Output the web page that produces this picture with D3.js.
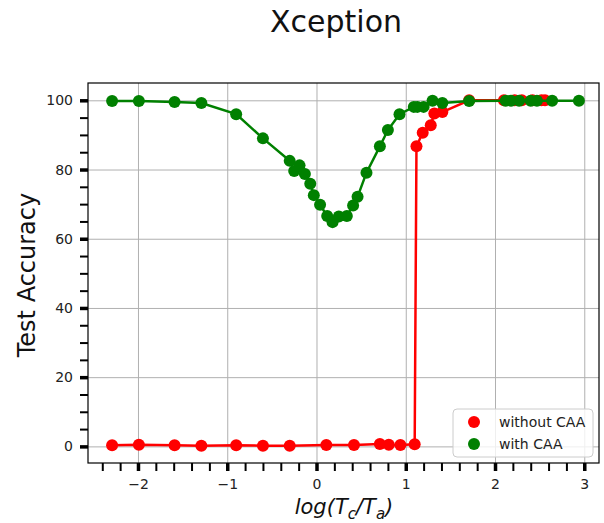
<!DOCTYPE html>
<html>
<head>
<meta charset="utf-8">
<script src="https://cdn.jsdelivr.net/npm/d3@7"></script>
<style>
  body { margin: 0; background: #fff; }
  svg { font-family: "DejaVu Sans", sans-serif; }
</style>
</head>
<body>
<svg id="chart" width="604" height="523"></svg>
<script>
// Data
const title = "Xception";
const seriesNames = ["without CAA", "with CAA"];

const withoutX = [-2.29, -1.99, -1.59, -1.29, -0.90, -0.60, -0.30, 0.11, 0.42, 0.71, 0.81, 0.94, 1.10,
                  1.12, 1.19, 1.28, 1.32, 1.41, 1.71, 2.10, 2.22, 2.30, 2.42, 2.52, 2.56];
const withoutY = [0.3, 0.5, 0.3, 0.2, 0.3, 0.2, 0.2, 0.4, 0.4, 0.7, 0.5, 0.4, 0.6,
                  86.7, 90.6, 92.8, 96.2, 96.6, 100.0, 100.0, 100.0, 100.0, 100.0, 100.0, 100.0];

const withX = [-2.29, -1.99, -1.59, -1.29, -0.90, -0.60, -0.30, -0.25, -0.19, -0.13, -0.07, -0.03,
               0.04, 0.12, 0.18, 0.25, 0.34, 0.41, 0.46, 0.56, 0.71, 0.80, 0.93, 1.09, 1.13, 1.20,
               1.30, 1.41, 1.71, 2.12, 2.18, 2.27, 2.40, 2.47, 2.64, 2.94];
const withY = [99.8, 99.8, 99.5, 99.2, 96.0, 89.0, 82.5, 79.6, 81.2, 78.7, 75.9, 72.6,
               69.8, 66.6, 64.8, 66.4, 66.6, 69.6, 72.1, 79.1, 86.7, 91.4, 96.0, 98.1, 98.1, 98.1,
               99.9, 99.2, 99.8, 99.9, 99.9, 99.9, 99.9, 99.9, 99.9, 99.9];

const xTicks = [-2, -1, 0, 1, 2, 3];
const yTicks = [0, 20, 40, 60, 80, 100];

// Layout
const box = { left: 88, right: 599, top: 83, bottom: 463 };
const svg = d3.select("#chart");

const x = d3.scaleLinear().domain([-2.56, 3.165]).range([box.left, box.right]);
const y = d3.scaleLinear().domain([-4.8, 105]).range([box.bottom, box.top]);

const fmt = d => d < 0 ? "\u2212" + Math.abs(d) : String(d);

// Grid
svg.append("g")
    .attr("transform", "translate(0," + box.bottom + ")")
    .call(d3.axisBottom(x).tickValues(xTicks).tickSize(-(box.bottom - box.top)).tickFormat(""))
    .call(g => g.select(".domain").remove())
    .call(g => g.selectAll("line").attr("stroke", "#b0b0b0").attr("stroke-width", 1));

svg.append("g")
    .attr("transform", "translate(" + box.left + ",0)")
    .call(d3.axisLeft(y).tickValues(yTicks).tickSize(-(box.right - box.left)).tickFormat(""))
    .call(g => g.select(".domain").remove())
    .call(g => g.selectAll("line").attr("stroke", "#b0b0b0").attr("stroke-width", 1));

// Minor ticks
const xMinor = d3.range(-2.4, 3.2, 0.2).filter(v => Math.abs(v - Math.round(v)) > 0.01);
const yMinor = d3.range(0, 101, 5).filter(v => v % 20 !== 0);

svg.append("g")
    .attr("transform", "translate(0," + box.bottom + ")")
    .call(d3.axisBottom(x).tickValues(xMinor).tickSize(8).tickFormat(""))
    .call(g => g.select(".domain").remove())
    .call(g => g.selectAll("line").attr("stroke", "#000").attr("stroke-width", 2));

svg.append("g")
    .attr("transform", "translate(" + box.left + ",0)")
    .call(d3.axisLeft(y).tickValues(yMinor).tickSize(8).tickFormat(""))
    .call(g => g.select(".domain").remove())
    .call(g => g.selectAll("line").attr("stroke", "#000").attr("stroke-width", 2));

// Major ticks and labels
svg.append("g")
    .attr("transform", "translate(0," + box.bottom + ")")
    .call(d3.axisBottom(x).tickValues(xTicks).tickSize(8).tickPadding(8).tickFormat(fmt))
    .call(g => g.select(".domain").remove())
    .call(g => g.selectAll("line").attr("stroke", "#000").attr("stroke-width", 3.5))
    .call(g => g.selectAll("text").attr("fill", "#222").style("font-size", "14px")
        .style("font-family", "DejaVu Sans"));

svg.append("g")
    .attr("transform", "translate(" + box.left + ",0)")
    .call(d3.axisLeft(y).tickValues(yTicks).tickSize(8).tickPadding(7).tickFormat(fmt))
    .call(g => g.select(".domain").remove())
    .call(g => g.selectAll("line").attr("stroke", "#000").attr("stroke-width", 3.5))
    .call(g => g.selectAll("text").attr("fill", "#222").style("font-size", "14px")
        .style("font-family", "DejaVu Sans"));

// Series
const series = [
    { name: seriesNames[0], color: "#ff0000", xs: withoutX, ys: withoutY },
    { name: seriesNames[1], color: "#008000", xs: withX, ys: withY }
];

const line = d3.line().x(d => x(d[0])).y(d => y(d[1]));

series.forEach(s => {
    const pts = s.xs.map((v, i) => [v, s.ys[i]]);
    svg.append("path")
        .datum(pts)
        .attr("fill", "none")
        .attr("stroke", s.color)
        .attr("stroke-width", 2.5)
        .attr("d", line);
    svg.append("g")
        .selectAll("circle")
        .data(pts)
        .enter()
        .append("circle")
        .attr("cx", d => x(d[0]))
        .attr("cy", d => y(d[1]))
        .attr("r", 6)
        .attr("fill", s.color);
});

// Frame
svg.append("rect")
    .attr("x", box.left)
    .attr("y", box.top)
    .attr("width", box.right - box.left)
    .attr("height", box.bottom - box.top)
    .attr("fill", "none")
    .attr("stroke", "#000")
    .attr("stroke-width", 1.2);

// Legend
const legend = svg.append("g");
legend.append("rect")
    .attr("x", 453).attr("y", 409)
    .attr("width", 140).attr("height", 48)
    .attr("rx", 4)
    .attr("fill", "#fff").attr("fill-opacity", 0.8)
    .attr("stroke", "#cccccc");

series.forEach((s, i) => {
    legend.append("circle")
        .attr("cx", 474).attr("cy", 422 + i * 22)
        .attr("r", 6)
        .attr("fill", s.color);
    legend.append("text")
        .attr("x", 499).attr("y", 427 + i * 22)
        .style("font-size", "14px")
        .attr("fill", "#222")
        .text(s.name);
});

// Title
svg.append("text")
    .attr("x", 336)
    .attr("y", 32)
    .attr("text-anchor", "middle")
    .style("font-size", "30px")
    .attr("fill", "#111")
    .text(title);

// Y label
svg.append("text")
    .attr("transform", "translate(35,275) rotate(-90)")
    .attr("text-anchor", "middle")
    .style("font-size", "24px")
    .attr("fill", "#111")
    .text("Test Accuracy");

// X label: log(T_c/T_a)
const xl = svg.append("text")
    .attr("x", 344)
    .attr("y", 514)
    .attr("text-anchor", "middle")
    .style("font-size", "21px")
    .style("font-style", "italic")
    .attr("fill", "#111");
xl.append("tspan").text("log(T");
xl.append("tspan").attr("dy", 5).style("font-size", "15px").text("c");
xl.append("tspan").attr("dy", -5).text("/T");
xl.append("tspan").attr("dy", 5).style("font-size", "15px").text("a");
xl.append("tspan").attr("dy", -5).text(")");
</script>
</body>
</html>
